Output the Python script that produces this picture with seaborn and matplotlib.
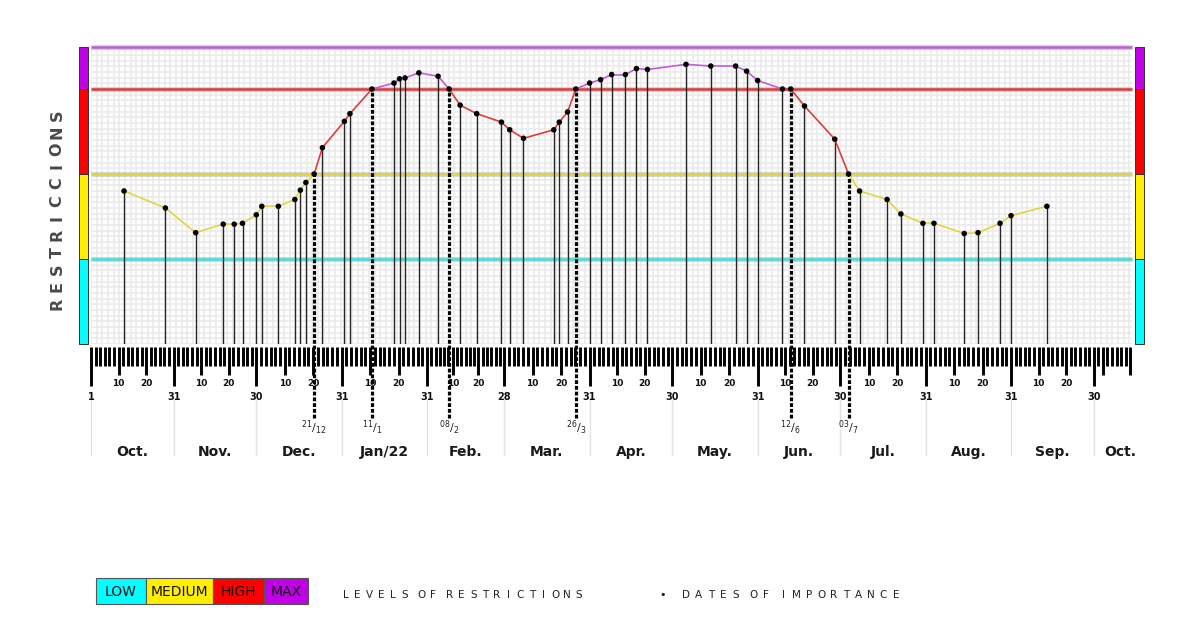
import numpy as np
import pandas as pd
import matplotlib
matplotlib.use('Agg')
import matplotlib.pyplot as plt
import seaborn as sns
from matplotlib.patches import Rectangle

# data: dates of measures and level of restriction (0-1 low, 1-2 medium, 2-3 high, 3-3.5 max)
dates = ['2021-10-13', '2021-10-28', '2021-11-08', '2021-11-18', '2021-11-22', '2021-11-25',
         '2021-11-30', '2021-12-02', '2021-12-08', '2021-12-14', '2021-12-16', '2021-12-18',
         '2021-12-21', '2021-12-24', '2022-01-01', '2022-01-03', '2022-01-11', '2022-01-19',
         '2022-01-21', '2022-01-23', '2022-01-28', '2022-02-04', '2022-02-08', '2022-02-12',
         '2022-02-18', '2022-02-27', '2022-03-02', '2022-03-07', '2022-03-18', '2022-03-20',
         '2022-03-23', '2022-03-26', '2022-03-31', '2022-04-04', '2022-04-08', '2022-04-13',
         '2022-04-17', '2022-04-21', '2022-05-05', '2022-05-14', '2022-05-23', '2022-05-27',
         '2022-05-31', '2022-06-09', '2022-06-12', '2022-06-17', '2022-06-28', '2022-07-03',
         '2022-07-07', '2022-07-17', '2022-07-22', '2022-07-30', '2022-08-03', '2022-08-14',
         '2022-08-19', '2022-08-27', '2022-08-31', '2022-09-13']
levels = [1.80, 1.60, 1.31, 1.41, 1.41, 1.42,
          1.52, 1.62, 1.62, 1.70, 1.81, 1.90,
          2.00, 2.31, 2.62, 2.71, 3.00, 3.07,
          3.12, 3.13, 3.19, 3.15, 3.00, 2.81,
          2.71, 2.61, 2.52, 2.42, 2.52, 2.61,
          2.73, 3.00, 3.07, 3.11, 3.17, 3.17,
          3.24, 3.23, 3.29, 3.27, 3.27, 3.21,
          3.10, 3.00, 3.00, 2.80, 2.41, 2.00,
          1.80, 1.70, 1.53, 1.42, 1.42, 1.30,
          1.31, 1.42, 1.51, 1.62]

key_dates = ['2021-12-21', '2022-01-11', '2022-02-08', '2022-03-26', '2022-06-12', '2022-07-03']
key_labels = [r'${}^{21}/{}_{12}$', r'${}^{11}/{}_{1}$', r'${}^{08}/{}_{2}$',
              r'${}^{26}/{}_{3}$', r'${}^{12}/{}_{6}$', r'${}^{03}/{}_{7}$']

month_names = ['Oct.', 'Nov.', 'Dec.', 'Jan/22', 'Feb.', 'Mar.', 'Apr.', 'May.',
               'Jun.', 'Jul.', 'Aug.', 'Sep.', 'Oct.']
level_names = ['LOW', 'MEDIUM', 'HIGH', 'MAX']
level_bounds = [0, 1, 2, 3, 3.5]
band_colors = ['#00ffff', '#ffee00', '#ff0000', '#c000e6']
line_colors = ['#45dede', '#e2d43e', '#de3c3c', '#c25cdc']

START = pd.Timestamp('2021-10-01')
df = pd.DataFrame({'date': pd.to_datetime(dates), 'level': levels})
df['day'] = (df['date'] - START).dt.days
kdf = df[df['date'].isin(pd.to_datetime(key_dates))].reset_index(drop=True)

sns.set_style('white')
plt.rcParams['font.family'] = ['DejaVu Sans']
plt.rcParams['mathtext.default'] = 'regular'

W, H = 1200, 640
fig = plt.figure(figsize=(12, 6.4), dpi=100)
XMAX = 377.9
ax = fig.add_axes([91 / W, 1 - 344 / H, (1132 - 91) / W, (344 - 46.5) / H])
ax.set_xlim(0, XMAX)
ax.set_ylim(0, 3.5)
ax.axis('off')

# fine background grid
for gx in np.arange(0, XMAX, 2.06):
    ax.axvline(gx, color='#e9e9e9', lw=1.1, zorder=0)
for gy in np.arange(0, 3.5, 1 / 15):
    ax.axhline(gy, color='#e9e9e9', lw=1.1, zorder=0)

# level lines
for lv, c in zip(level_bounds[1:], line_colors):
    ax.plot([0, XMAX], [lv, lv], color='#909090', lw=3.6, alpha=0.35, zorder=1, clip_on=False,
            solid_capstyle='butt')
    ax.plot([0, XMAX], [lv, lv], color=c, lw=1.8, zorder=1.1, clip_on=False, solid_capstyle='butt')

# side bars
for i, c in enumerate(band_colors):
    y0, y1 = level_bounds[i], level_bounds[i + 1]
    for x0, x1 in [(-4.3, -1.0), (379.0, 382.3)]:
        ax.add_patch(Rectangle((x0, y0), x1 - x0, y1 - y0, facecolor=c, edgecolor='#333333',
                               lw=0.7, clip_on=False, zorder=2))

# stems
normal = df[~df['date'].isin(kdf['date'])]
ax.vlines(normal['day'], 0, normal['level'], color='#262626', lw=1.0, zorder=2)
ax.vlines(kdf['day'], -0.87, kdf['level'], color='black', lw=2.3,
          linestyles=[(0, (1.2, 0.6))], zorder=3, clip_on=False)

# coloured line segments
for i in range(len(df) - 1):
    l1, l2 = df['level'].iloc[i], df['level'].iloc[i + 1]
    mid = (l1 + l2) / 2
    c = line_colors[3] if mid > 3 else (line_colors[2] if mid > 2 else line_colors[1])
    ax.plot(df['day'].iloc[i:i + 2], df['level'].iloc[i:i + 2], color=c, lw=1.2, zorder=3.5)

sns.scatterplot(data=df, x='day', y='level', color='black', s=16, edgecolor='none',
                zorder=5, ax=ax, clip_on=False)

# ruler
ends = pd.date_range('2021-10-31', '2022-09-30', freq='ME')
bounds = [0] + list((ends - START).days)
end_labels = ['1'] + [str(d.day) for d in ends]
TOP, SHORT, MED, LONG = -0.035, -0.26, -0.365, -0.49
TLW = 2.1
for a, b in zip(bounds[:-1], bounds[1:]):
    for k in range(1, 19):
        x = a + (b - a) * k / 18
        bottom = LONG if k == 18 else (MED if k in (6, 12) else SHORT)
        ax.plot([x, x], [TOP, bottom], color='black', lw=TLW, clip_on=False, solid_capstyle='butt')
        if k in (6, 12):
            ax.text(x, -0.46, '10' if k == 6 else '20', ha='center', va='center',
                    fontsize=6.5, fontweight='bold', color='#111111')
ax.plot([0, 0], [TOP, LONG], color='black', lw=TLW, clip_on=False, solid_capstyle='butt')
step = 30 / 18
for k in range(1, 9):
    x = bounds[-1] + k * step
    ax.plot([x, x], [TOP, MED if k in (2, 8) else SHORT], color='black', lw=TLW,
            clip_on=False, solid_capstyle='butt')

for x, lab in zip(bounds, end_labels):
    ax.text(x, -0.62, lab, ha='center', va='center', fontsize=7, fontweight='bold', color='#111111')
    ax.plot([x, x], [-0.66, -1.31], color='#e2e2e2', lw=1.0, clip_on=False)

centers = [(a + b) / 2 for a, b in zip(bounds[:-1], bounds[1:])] + [(bounds[-1] + 383) / 2]
for x, name in zip(centers, month_names):
    ax.text(x, -1.265, name, ha='center', va='center', fontsize=10, fontweight='bold',
            color='#1a1a1a')

for x, lab in zip(kdf['day'], key_labels):
    ax.text(x, -0.99, lab, ha='center', va='center', fontsize=8, color='#222222')


# y label and legend in figure pixels
def ftext(x, y, s, **kw):
    fig.text(x / W, 1 - y / H, s, **kw)


word = 'RESTRICCIONS'
for i, ch in enumerate(word):
    ftext(57, 304 - i * 17.2, ch, rotation=90, ha='center', va='center', fontsize=11.5,
          fontweight='bold', color='#4a4a4a')

box_x = [96, 146, 213, 264, 308]
for i, (name, c) in enumerate(zip(level_names, band_colors)):
    x0, x1 = box_x[i], box_x[i + 1]
    fig.add_artist(Rectangle((x0 / W, 1 - 604 / H), (x1 - x0) / W, 26 / H, facecolor=c,
                             edgecolor='#555555', lw=0.8, transform=fig.transFigure))
    ftext((x0 + x1) / 2, 592, name, ha='center', va='center', fontsize=10, color='#111111')


def spaced(s, x0, x1, y):
    # letter-spaced caption, a word gap is ~1.42 letter steps
    letters = s.replace(' ', '')
    steps = [1.42 if s[i - 1] == ' ' else 1.0 for i in range(1, len(s)) if s[i] != ' ']
    a = (x1 - x0) / sum(steps)
    x = x0
    ftext(x, y, letters[0], ha='center', va='center', fontsize=7.5, color='#222222')
    for ch, st in zip(letters[1:], steps):
        x += st * a
        ftext(x, y, ch, ha='center', va='center', fontsize=7.5, color='#222222')


spaced('LEVELS OF RESTRICTIONS', 346, 579, 595)
ftext(663, 595, '•', ha='center', va='center', fontsize=8, color='#111111')
spaced('DATES OF IMPORTANCE', 686, 896, 595)

fig.savefig('out.png', dpi=100, facecolor='white')
